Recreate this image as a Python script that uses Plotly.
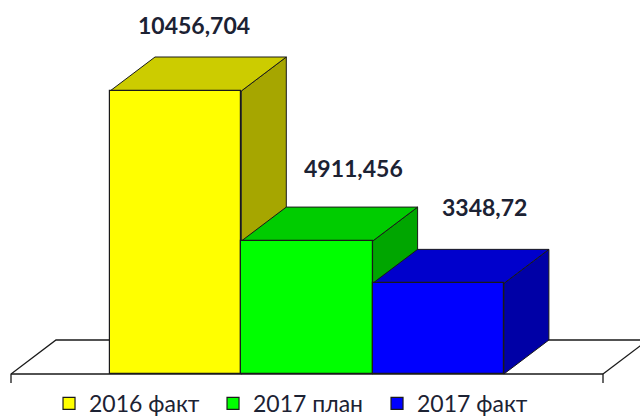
import plotly.graph_objects as go

names = ["2016 факт", "2017 план", "2017 факт"]
values = [10456.704, 4911.456, 3348.72]
labels = ["10456,704", "4911,456", "3348,72"]
front_colors = ["#FFFF00", "#00FF00", "#0000FF"]
top_colors = ["#CCCC00", "#00CC00", "#0000CC"]
side_colors = ["#A6A600", "#00A600", "#0000A6"]
label_shift_x = [18, 47, 46]
label_shift_y = [32, 39, 42]

# the figure runs 8 px past the bottom of the window so the legend sits low enough
W, H = 640, 417 + 8
PX_X = 131.3
PX_Y = 283 / 10456.704
X0_PX, Y0_PX = 110, 374
depth_x = 45 / PX_X
depth_y = 34 / PX_Y
x_range = [-0.5 - X0_PX / PX_X, -0.5 + (W - X0_PX) / PX_X]
y_range = [-(H - Y0_PX) / PX_Y, Y0_PX / PX_Y]
OUT = "#1a1a1a"

fig = go.Figure()

# floor
fl = -0.5 - 99 / PX_X
fr = -0.5 + 493 / PX_X
tick = 9 / PX_Y
fig.add_trace(go.Scatter(
    x=[fl, fl, fl + depth_x, x_range[1] + 0.1, None, fl, fr, fr, None, fr, fr + depth_x],
    y=[-tick, 0, depth_y, depth_y, None, 0, 0, -tick, None, 0, depth_y],
    mode="lines", line=dict(color=OUT, width=1.3), showlegend=False, hoverinfo="skip"))

# side and top faces, painted left to right
for i, v in enumerate(values):
    l, r = i - 0.5, i + 0.5
    fig.add_trace(go.Scatter(
        x=[r, r + depth_x, r + depth_x, r, r], y=[0, depth_y, v + depth_y, v, 0],
        mode="lines", fill="toself", fillcolor=side_colors[i],
        line=dict(color=OUT, width=1), showlegend=False, hoverinfo="skip"))
    fig.add_trace(go.Scatter(
        x=[l, l + depth_x, r + depth_x, r, l], y=[v, v + depth_y, v + depth_y, v, v],
        mode="lines", fill="toself", fillcolor=top_colors[i],
        line=dict(color=OUT, width=1), showlegend=False, hoverinfo="skip"))

# front faces on an overlaying axis pair so that they paint above the faces
for i, v in enumerate(values):
    fig.add_trace(go.Bar(
        x=[i], y=[v], width=1, name=names[i], xaxis="x2", yaxis="y2",
        marker=dict(color=front_colors[i], line=dict(color=OUT, width=1.2))))

for i, v in enumerate(values):
    fig.add_annotation(
        x=i, y=v + depth_y, text=f"<b>{labels[i]}</b>", showarrow=False,
        xref="x2", yref="y2", yanchor="middle",
        xshift=label_shift_x[i], yshift=label_shift_y[i],
        font=dict(family="Lato", size=23, color="#1c2233"))

axis = dict(visible=False, fixedrange=True)
fig.update_layout(
    width=W, height=H, autosize=False,
    margin=dict(l=0, r=0, t=0, b=0),
    paper_bgcolor="white", plot_bgcolor="white",
    barmode="overlay", bargap=0,
    xaxis=dict(axis, range=x_range, domain=[0, 1]),
    yaxis=dict(axis, range=y_range, domain=[0, 1]),
    xaxis2=dict(axis, range=x_range, overlaying="x", anchor="y2"),
    yaxis2=dict(axis, range=y_range, overlaying="y", anchor="x2"),
    legend=dict(
        orientation="h", x=0.0766, xanchor="left", y=0, yanchor="bottom",
        font=dict(family="Lato", size=23, color="#1c2233"),
        entrywidth=119, entrywidthmode="pixels", itemwidth=30,
        bgcolor="rgba(0,0,0,0)", traceorder="normal"),
    showlegend=True,
)
fig.write_html(
    "out.html", config=dict(displayModeBar=False),
    post_script="document.body.style.margin='0';document.documentElement.style.overflow='hidden';",
)
